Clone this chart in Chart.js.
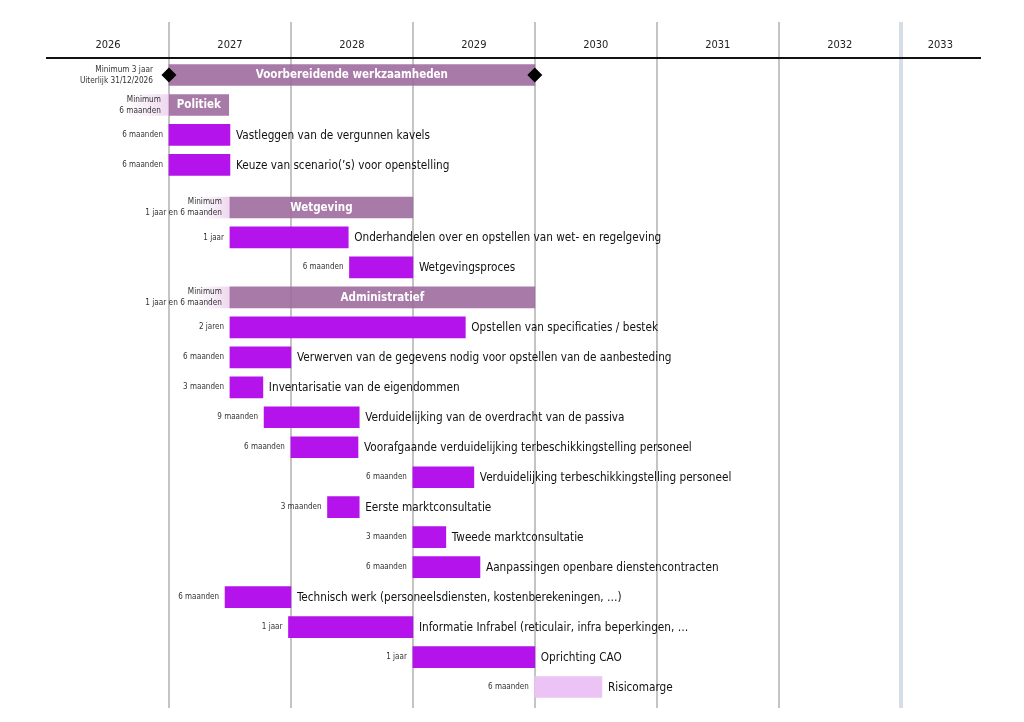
<!DOCTYPE html>
<html><head><meta charset="utf-8">
<script src="https://cdn.jsdelivr.net/npm/chart.js@4/dist/chart.umd.min.js"></script>
<style>html,body{margin:0;padding:0;background:#fff}#wrap{position:relative;width:1024px;height:722px}</style>
</head><body><div id="wrap"><canvas id="c"></canvas></div>
<script>
// ---- data ----
const years = [2026, 2027, 2028, 2029, 2030, 2031, 2032, 2033];
const tasks = [
  'Voorbereidende werkzaamheden',
  'Politiek',
  'Vastleggen van de vergunnen kavels',
  'Keuze van scenario(\u2019s) voor openstelling',
  'Wetgeving',
  'Onderhandelen over en opstellen van wet- en regelgeving',
  'Wetgevingsproces',
  'Administratief',
  'Opstellen van specificaties / bestek',
  'Verwerven van de gegevens nodig voor opstellen van de aanbesteding',
  'Inventarisatie van de eigendommen',
  'Verduidelijking van de overdracht van de passiva',
  'Voorafgaande verduidelijking terbeschikkingstelling personeel',
  'Verduidelijking terbeschikkingstelling personeel',
  'Eerste marktconsultatie',
  'Tweede marktconsultatie',
  'Aanpassingen openbare dienstencontracten',
  'Technisch werk (personeelsdiensten, kostenberekeningen, \u2026)',
  'Informatie Infrabel (reticulair, infra beperkingen, \u2026',
  'Oprichting CAO',
  'Risicomarge'
];
const kinds = ['phase','phase','task','task','phase','task','task','phase','task','task','task','task','task','task','task','task','task','task','task','task','margin'];
const rowIndex = [0, 1, 2, 3, 4.42, 5.42, 6.42, 7.42, 8.42, 9.42, 10.42, 11.42, 12.42, 13.42, 14.42, 15.42, 16.42, 17.42, 18.42, 19.42, 20.42];
const starts = [2027, 2027, 2027, 2027, 2027.5, 2027.5, 2028.48, 2027.5, 2027.5, 2027.5, 2027.5, 2027.78, 2028.0, 2029.0, 2028.3, 2029.0, 2029.0, 2027.46, 2027.98, 2029.0, 2030.0];
const ends   = [2030, 2027.49, 2027.5, 2027.5, 2029.0, 2028.47, 2029.0, 2030.0, 2029.43, 2028.0, 2027.77, 2028.56, 2028.55, 2029.5, 2028.56, 2029.27, 2029.55, 2028.0, 2029.0, 2030.0, 2030.55];
const durations = ['', '', '6 maanden', '6 maanden', '', '1 jaar', '6 maanden', '', '2 jaren', '6 maanden', '3 maanden', '9 maanden', '6 maanden', '6 maanden', '3 maanden', '3 maanden', '6 maanden', '6 maanden', '1 jaar', '1 jaar', '6 maanden'];
const notes = [
  ['Minimum 3 jaar', 'Uiterlijk 31/12/2026'],
  ['Minimum', '6 maanden'],
  null, null,
  ['Minimum', '1 jaar en 6 maanden'],
  null, null,
  ['Minimum', '1 jaar en 6 maanden'],
  null, null, null, null, null, null, null, null, null, null, null, null, null
];
const noteShadeFrom = [null, 2026.62, null, null, 2027.22, null, null, 2027.2, null, null, null, null, null, null, null, null, null, null, null, null, null];
const milestones = [2027, 2030];
const xMax = 2033.65;

// ---- styles ----
const FONT = '"DejaVu Sans Condensed", "DejaVu Sans", sans-serif';
const colors = { phase: 'rgba(158,108,158,0.9)', task: '#b414eb', margin: '#ecc3f5' };

const barData = tasks.map((t, i) => ({ y: rowIndex[i], x: [starts[i], ends[i]] }));
const shadeData = [];
noteShadeFrom.forEach((v, i) => { if (v !== null) shadeData.push({ y: rowIndex[i], x: [v, starts[i]] }); });
const msData = milestones.map(m => ({ x: m, y: rowIndex[0] }));

const labelPlugin = {
  id: 'ganttLabels',
  afterDatasetsDraw(chart) {
    const c = chart.ctx;
    const meta = chart.getDatasetMeta(1);
    c.save();
    meta.data.forEach((bar, i) => {
      const left = Math.min(bar.x, bar.base), right = Math.max(bar.x, bar.base), y = bar.y;
      c.textBaseline = 'middle';
      if (kinds[i] === 'phase') {
        c.font = 'bold 11.5px ' + FONT;
        c.fillStyle = '#ffffff';
        c.textAlign = 'center';
        c.fillText(tasks[i], (left + right) / 2, y + 0.5);
      } else {
        c.font = '11.7px ' + FONT;
        c.fillStyle = '#111111';
        c.textAlign = 'left';
        c.fillText(tasks[i], right + 6, y + 1);
      }
      if (durations[i]) {
        c.font = '8px ' + FONT;
        c.fillStyle = '#333333';
        c.textAlign = 'right';
        c.fillText(durations[i], left - 6, y);
      }
      if (notes[i]) {
        c.font = '8.2px ' + FONT;
        c.fillStyle = '#333333';
        c.textAlign = 'right';
        const gap = i === 0 ? 16 : 8;
        c.fillText(notes[i][0], left - gap, y - 5.5);
        c.fillText(notes[i][1], left - gap, y + 5.5);
      }
    });
    c.restore();
  }
};

function isGridTick(v) { return Math.abs(v - Math.round(v)) < 1e-9; }
const lastYear = years[years.length - 1];
function gridCol(ctx) {
  if (!ctx.tick || !isGridTick(ctx.tick.value)) return 'rgba(0,0,0,0)';
  return ctx.tick.value === lastYear ? '#d5dde6' : '#c4c4c4';
}

new Chart(document.getElementById('c'), {
  type: 'bar',
  data: {
    datasets: [
      {
        type: 'scatter', data: msData, order: 0,
        pointStyle: 'rectRot', pointRadius: 7.5, pointHoverRadius: 7.5,
        backgroundColor: '#000', borderColor: '#000', borderWidth: 0
      },
      {
        indexAxis: 'y', data: barData, order: 1, grouped: false, barThickness: 21,
        backgroundColor: ctx => colors[kinds[ctx.dataIndex]], borderWidth: 0
      },
      {
        indexAxis: 'y', data: shadeData, order: 2, grouped: false, barThickness: 21, borderWidth: 0,
        backgroundColor: ctx => {
          const ch = ctx.chart, raw = ctx.raw;
          if (!ch.chartArea || !raw) return '#f0dcf0';
          const xs = ch.scales.x;
          const g = ch.ctx.createLinearGradient(xs.getPixelForValue(raw.x[0]), 0, xs.getPixelForValue(raw.x[1]), 0);
          g.addColorStop(0, 'rgba(240,220,240,0)');
          g.addColorStop(1, 'rgba(238,215,238,1)');
          return g;
        }
      }
    ]
  },
  options: {
    responsive: true, maintainAspectRatio: false, animation: false,
    layout: { padding: { top: 22, left: 47, right: 44, bottom: 14 } },
    plugins: { legend: { display: false }, tooltip: { enabled: false } },
    scales: {
      x: {
        type: 'linear', position: 'top', min: years[0], max: xMax, offset: false, bounds: 'data',
        afterBuildTicks(scale) {
          const t = [];
          years.forEach((yr, i) => {
            if (i > 0) t.push({ value: yr });
            const next = Math.min(yr + 1, xMax);
            t.push({ value: (yr + next) / 2 });
          });
          scale.ticks = t;
        },
        afterFit(scale) { scale.height = 36; },
        ticks: {
          autoSkip: false, maxRotation: 0, minRotation: 0, padding: -30,
          color: '#222', font: { family: FONT, size: 11 },
          callback: v => isGridTick(v) ? '' : String(Math.floor(v))
        },
        grid: {
          offset: false, drawOnChartArea: true, drawTicks: true, tickLength: 36,
          color: gridCol, tickColor: gridCol,
          lineWidth: ctx => (ctx.tick && ctx.tick.value === lastYear) ? 4 : 2
        },
        border: { display: true, color: '#111', width: 2 }
      },
      y: {
        type: 'linear', display: false, reverse: true, min: -0.567, max: 21.12, offset: false, bounds: 'data',
        grid: { offset: false }
      }
    }
  },
  plugins: [labelPlugin]
});
</script></body></html>
